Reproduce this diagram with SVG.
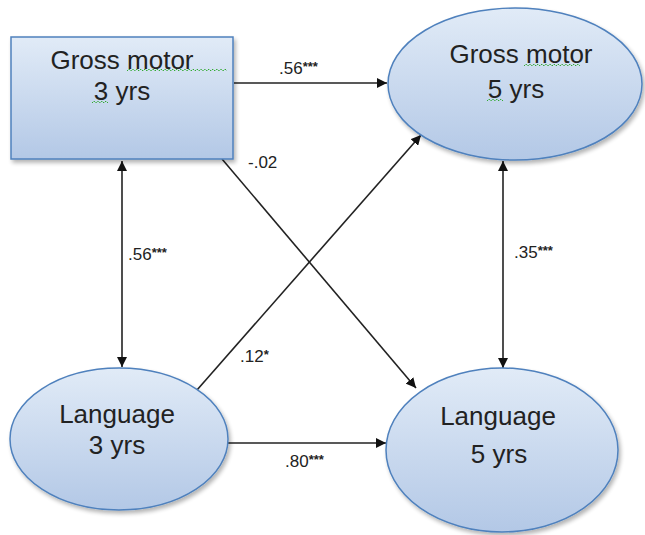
<svg xmlns="http://www.w3.org/2000/svg" width="645" height="535" viewBox="0 0 645 535">
<defs>
<linearGradient id="fillg" x1="0" y1="0" x2="0" y2="1">
<stop offset="0" stop-color="#e1ebf7"/>
<stop offset="1" stop-color="#b3c8e6"/>
</linearGradient>
<filter id="sh" x="-10%" y="-10%" width="125%" height="125%">
<feGaussianBlur in="SourceAlpha" stdDeviation="2"/>
<feOffset dx="2" dy="3"/>
<feComponentTransfer><feFuncA type="linear" slope="0.3"/></feComponentTransfer>
<feMerge><feMergeNode/><feMergeNode in="SourceGraphic"/></feMerge>
</filter>
<marker id="ah" viewBox="0 0 10 10" refX="10" refY="5" markerWidth="10" markerHeight="10" markerUnits="userSpaceOnUse" orient="auto-start-reverse">
<path d="M0,0 L10,5 L0,10 z" fill="#111"/>
</marker>
<style>
.node{fill:url(#fillg);stroke:#4f81bd;stroke-width:1.5;filter:url(#sh)}
.nt{font-family:"Liberation Sans",Arial,sans-serif;font-size:26px;fill:#222;text-anchor:middle}
.el{font-family:"Liberation Sans",Arial,sans-serif;font-size:17px;fill:#222}
.st{font-size:13px;font-weight:bold}
.ln{stroke:#222;stroke-width:1.6;fill:none}
.sq{stroke:#3a3;stroke-width:1;fill:none;stroke-dasharray:2 1}
</style>
</defs>
<g id="connectors">
<line class="ln" x1="234" y1="83" x2="387" y2="83" marker-end="url(#ah)"/>
<line class="ln" x1="228" y1="443" x2="386" y2="443" marker-end="url(#ah)"/>
<line class="ln" x1="122" y1="161" x2="122" y2="367" marker-start="url(#ah)" marker-end="url(#ah)"/>
<line class="ln" x1="503" y1="161" x2="503" y2="368" marker-start="url(#ah)" marker-end="url(#ah)"/>
<line class="ln" x1="222" y1="159" x2="416" y2="388" marker-end="url(#ah)"/>
<line class="ln" x1="197" y1="390" x2="421" y2="135" marker-end="url(#ah)"/>
<text class="el" x="279" y="74">.56<tspan class="st" dy="-3">***</tspan></text>
<text class="el" x="248" y="168">-.02</text>
<text class="el" x="128" y="260">.56<tspan class="st" dy="-3">***</tspan></text>
<text class="el" x="514" y="258">.35<tspan class="st" dy="-3">***</tspan></text>
<text class="el" x="240" y="362">.12<tspan class="st" dy="-3">*</tspan></text>
<text class="el" x="285" y="467">.80<tspan class="st" dy="-3">***</tspan></text>
</g>
<g id="gm3">
<rect class="node" x="11" y="37" width="222" height="122"/>
<text class="nt" x="122" y="69">Gross motor</text>
<text class="nt" x="122" y="100">3 yrs</text>
<path class="sq" d="M127,71 l2,-2 l2,2 l2,-2 l2,2 l2,-2 l2,2 l2,-2 l2,2 l2,-2 l2,2 l2,-2 l2,2 l2,-2 l2,2 l2,-2 l2,2 l2,-2 l2,2 l2,-2 l2,2 l2,-2 l2,2 l2,-2 l2,2 l2,-2 l2,2 l2,-2 l2,2 l2,-2 l2,2 l2,-2 l2,2 l2,-2 l2,2 l2,-2 l2,2 l2,-2 l2,2 l2,-2 l2,2 l2,-2 l2,2 l2,-2 l2,2 l2,-2 l2,2 l2,-2 l2,2 l2,-2 l2,2"/>
<path class="sq" d="M92,103 l2,-2 l2,2 l2,-2 l2,2 l2,-2 l2,2 l2,-2 l2,2"/>
</g>
<g id="gm5">
<ellipse class="node" cx="515" cy="84" rx="127" ry="76"/>
<text class="nt" x="521" y="63">Gross motor</text>
<text class="nt" x="516" y="98">5 yrs</text>
<path class="sq" d="M524,66 l2,-2 l2,2 l2,-2 l2,2 l2,-2 l2,2 l2,-2 l2,2 l2,-2 l2,2 l2,-2 l2,2 l2,-2 l2,2 l2,-2 l2,2 l2,-2 l2,2 l2,-2 l2,2 l2,-2 l2,2 l2,-2 l2,2 l2,-2 l2,2 l2,-2 l2,2"/>
<path class="sq" d="M487,101 l2,-2 l2,2 l2,-2 l2,2 l2,-2 l2,2 l2,-2 l2,2"/>
</g>
<g id="lang3">
<ellipse class="node" cx="119" cy="439" rx="109" ry="71"/>
<text class="nt" x="117" y="423">Language</text>
<text class="nt" x="117" y="454">3 yrs</text>
</g>
<g id="lang5">
<ellipse class="node" cx="502" cy="450" rx="116" ry="82"/>
<text class="nt" x="498" y="425">Language</text>
<text class="nt" x="499" y="463">5 yrs</text>
</g>
</svg>
